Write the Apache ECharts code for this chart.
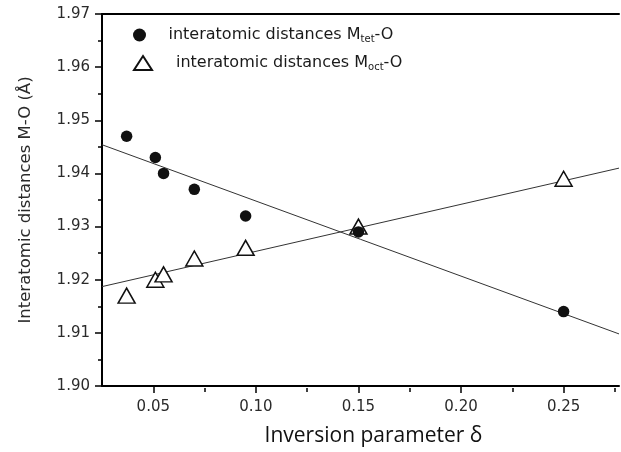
<!DOCTYPE html>
<html><head><meta charset="utf-8">
<script src="https://cdn.jsdelivr.net/npm/echarts@6/dist/echarts.min.js"></script>
<style>html,body{margin:0;padding:0;background:#fff}#c{width:621px;height:452px}</style>
</head><body><div id="c"></div>
<script>
// Data
const deltaTet = [0.037, 0.051, 0.055, 0.070, 0.095, 0.150, 0.250];
const distTet  = [1.947, 1.943, 1.940, 1.937, 1.932, 1.929, 1.914];
const deltaOct = [0.037, 0.051, 0.055, 0.070, 0.095, 0.150, 0.250];
const distOct  = [1.917, 1.920, 1.921, 1.924, 1.926, 1.930, 1.939];
// Linear fit lines (endpoints across the plotted range)
const fitDelta = [0.025, 0.277];
const fitTet   = [1.9454, 1.9098];
const fitOct   = [1.9187, 1.9410];
// Tick values
const xMajorTicks = [0.05, 0.10, 0.15, 0.20, 0.25];
const xMinorTicks = [0.075, 0.125, 0.175, 0.225, 0.275];
const seriesNames = ['interatomic distances M_tet-O', 'interatomic distances M_oct-O'];
const legendParts = [['interatomic distances M', 'tet', '-O'], ['interatomic distances M', 'oct', '-O']];

const xMin = 0.025, xMax = 0.277, yMin = 1.90, yMax = 1.97;
const labelFont = 'DejaVu Sans';
const gridBox = {left: 102, right: 2, top: 14, bottom: 64};

const zip = (a, b) => a.map((v, i) => [v, b[i]]);

function legendOf(idx, left, top, itemHeight, pad) {
  return {
    orient: 'vertical', left: left, top: top, itemWidth: 18, itemHeight: itemHeight, itemGap: 0,
    data: [seriesNames[idx]],
    formatter: name => {
      const p = legendParts[seriesNames.indexOf(name)];
      return '{f|' + p[0] + '}{s|' + p[1] + '}{n|' + p[2] + '}';
    },
    textStyle: {
      fontFamily: labelFont, fontSize: 16, color: '#1a1a1a',
      rich: {
        f: {fontFamily: labelFont, fontSize: 16, color: '#1a1a1a', padding: [0, 0, 0, pad]},
        n: {fontFamily: labelFont, fontSize: 16, color: '#1a1a1a'},
        s: {fontFamily: labelFont, fontSize: 10, color: '#1a1a1a', padding: [9, 0, 0, 0]}
      }
    }
  };
}

const chart = echarts.init(document.getElementById('c'), null, {renderer: 'canvas'});
chart.setOption({
  animation: false,
  backgroundColor: '#fff',
  grid: [Object.assign({}, gridBox), Object.assign({}, gridBox)],
  legend: [legendOf(0, 128, 22, 13, 15), legendOf(1, 128, 50, 14, 19)],
  xAxis: [
    {
      type: 'value', gridIndex: 0, position: 'bottom', min: xMin, max: xMax,
      name: 'Inversion parameter δ', nameLocation: 'middle', nameGap: 40,
      nameTextStyle: {fontFamily: 'Open Sans', fontSize: 21, color: '#111', padding: [0, 0, 0, 26]},
      axisLine: {show: true, onZero: false, lineStyle: {color: '#000', width: 2}},
      axisTick: {show: true, length: 7, customValues: xMajorTicks, lineStyle: {color: '#000', width: 1.5}},
      axisLabel: {customValues: xMajorTicks, formatter: v => v.toFixed(2), fontFamily: labelFont, fontSize: 15, color: '#2a2a2a', margin: 14},
      splitLine: {show: false}
    },
    {
      type: 'value', gridIndex: 0, position: 'top', min: xMin, max: xMax,
      axisLine: {show: true, onZero: false, lineStyle: {color: '#000', width: 2}},
      axisTick: {show: false}, axisLabel: {show: false}, splitLine: {show: false}
    },
    {
      type: 'value', gridIndex: 1, position: 'bottom', min: xMin, max: xMax,
      axisLine: {show: false, onZero: false},
      axisTick: {show: true, length: 4, customValues: xMinorTicks, lineStyle: {color: '#000', width: 1.5}},
      axisLabel: {show: false}, splitLine: {show: false}
    }
  ],
  yAxis: [
    {
      type: 'value', gridIndex: 0, min: yMin, max: yMax, interval: 0.01,
      name: 'Interatomic distances M-O (Å)', nameLocation: 'middle', nameGap: 68,
      nameTextStyle: {fontFamily: labelFont, fontSize: 16.5, color: '#2a2a2a'},
      axisLine: {show: true, onZero: false, lineStyle: {color: '#000', width: 2}},
      axisTick: {show: true, length: 7, lineStyle: {color: '#000', width: 1.5}},
      minorTick: {show: true, splitNumber: 2, length: 4, lineStyle: {color: '#000', width: 1.5}},
      axisLabel: {formatter: v => v.toFixed(2), fontFamily: labelFont, fontSize: 15, color: '#2a2a2a', margin: 12},
      splitLine: {show: false}
    },
    {
      type: 'value', gridIndex: 1, min: yMin, max: yMax, show: false
    }
  ],
  series: [
    {
      type: 'line', xAxisIndex: 0, yAxisIndex: 0, data: zip(fitDelta, fitTet),
      showSymbol: false, silent: true, z: 1, lineStyle: {color: '#333', width: 1}
    },
    {
      type: 'line', xAxisIndex: 0, yAxisIndex: 0, data: zip(fitDelta, fitOct),
      showSymbol: false, silent: true, z: 1, lineStyle: {color: '#333', width: 1}
    },
    {
      name: seriesNames[0], type: 'scatter', xAxisIndex: 0, yAxisIndex: 0, z: 4,
      data: zip(deltaTet, distTet), symbol: 'circle', symbolSize: 11.5,
      itemStyle: {color: '#111', opacity: 1}
    },
    {
      name: seriesNames[1], type: 'scatter', xAxisIndex: 0, yAxisIndex: 0, z: 3,
      data: zip(deltaOct, distOct), symbol: 'triangle', symbolSize: [17, 15],
      itemStyle: {color: '#fff', borderColor: '#111', borderWidth: 1.5, opacity: 1}
    }
  ]
});
</script>
</body></html>
